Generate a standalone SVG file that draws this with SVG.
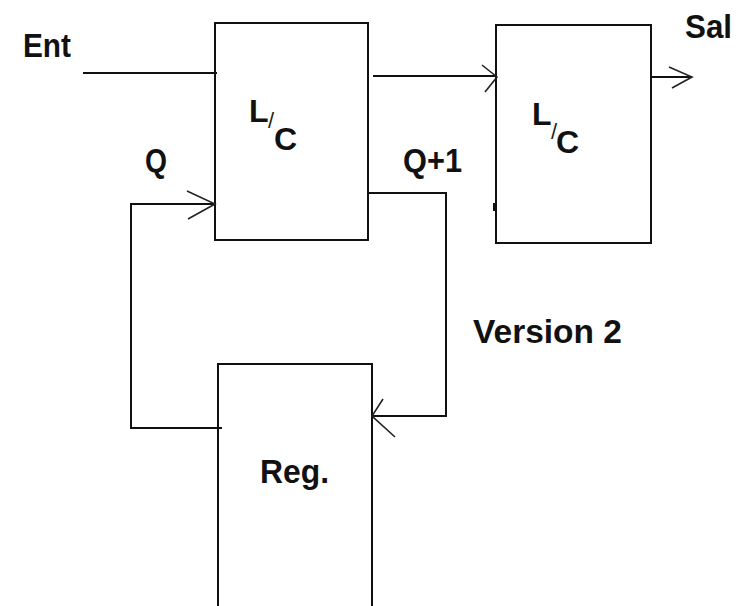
<svg xmlns="http://www.w3.org/2000/svg" width="742" height="606" viewBox="0 0 742 606">
<style>
.box{fill:none;stroke:#111;stroke-width:2}
.ln{fill:none;stroke:#111;stroke-width:2}
.ah{fill:none;stroke:#222;stroke-width:1.6}
.t{font-family:"Liberation Sans",Arial,sans-serif;font-weight:bold;font-size:34px;fill:#111}
.lc{font-family:"Liberation Sans",Arial,sans-serif;font-weight:bold;font-size:32px;fill:#111}
.sl{font-weight:normal;font-size:22px;fill:#222}
</style>
<rect width="742" height="606" fill="#fff"/>
<g id="box1">
<rect class="box" x="215" y="23" width="153" height="217"/>
<text class="lc"><tspan x="249" y="122">L</tspan><tspan class="sl" x="268" y="128">/</tspan><tspan x="274" y="150">C</tspan></text>
</g>
<g id="box2">
<rect class="box" x="496" y="25" width="155" height="218"/>
<text class="lc"><tspan x="532" y="125">L</tspan><tspan class="sl" x="551" y="139">/</tspan><tspan x="556" y="153">C</tspan></text>
<rect x="493" y="203" width="3" height="8" fill="#111"/>
</g>
<g id="reg">
<path class="box" d="M218,610 V364 H372 V610"/>
<text class="t" x="260" y="483" textLength="69" lengthAdjust="spacingAndGlyphs">Reg.</text>
</g>
<g id="labels">
<text class="t" x="23" y="57" textLength="48" lengthAdjust="spacingAndGlyphs">Ent</text>
<text class="t" x="685" y="38" textLength="47" lengthAdjust="spacingAndGlyphs">Sal</text>
<text class="t" x="145" y="172" textLength="22" lengthAdjust="spacingAndGlyphs">Q</text>
<text class="t" x="403" y="172" textLength="59" lengthAdjust="spacingAndGlyphs">Q+1</text>
<text class="t" x="473" y="343" textLength="149" lengthAdjust="spacingAndGlyphs">Version 2</text>
</g>
<g id="connectors">
<path class="ln" d="M83,73 H217"/>
<path class="ln" d="M373,76 H497"/>
<path class="ah" d="M482,65 L497,77 L485,92"/>
<path class="ln" d="M651,77 H692"/>
<path class="ah" d="M669,67 L692,77 L672,88"/>
<path class="ln" d="M368,193 H446 V416 H372"/>
<path class="ah" d="M383,399 L372,416 L395,437"/>
<path class="ln" d="M222,428 H131 V204 H215"/>
<path class="ah" d="M187,191 L215,204 L188,219"/>
</g>
</svg>
